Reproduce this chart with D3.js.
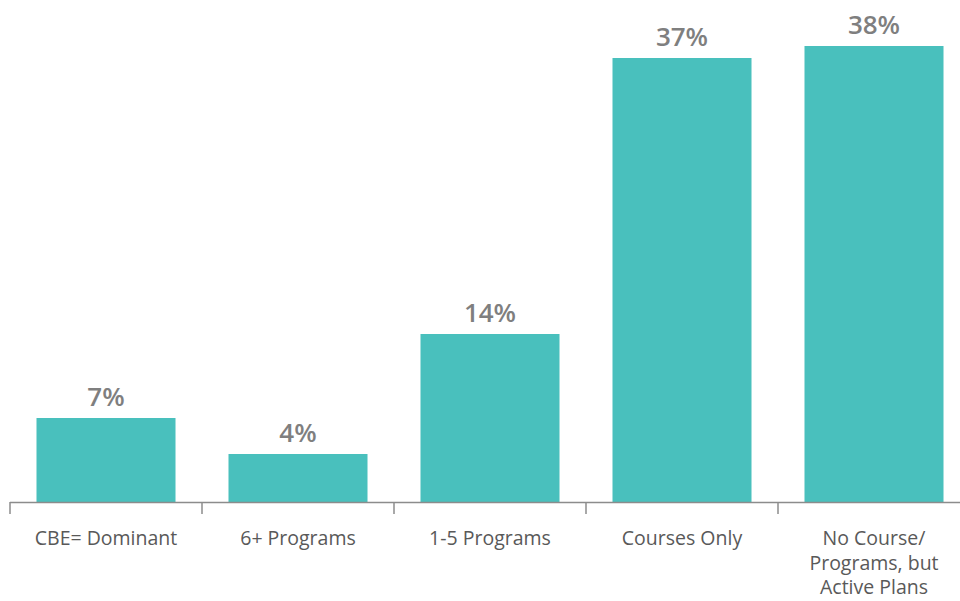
<!DOCTYPE html>
<html>
<head>
<meta charset="utf-8">
<script src="https://cdn.jsdelivr.net/npm/d3@7"></script>
<style>
  body { margin: 0; background: #fff; }
  svg { display: block; font-family: "Open Sans", Lato, sans-serif; }
</style>
</head>
<body>
<svg id="chart" width="960" height="601"></svg>
<script>
// categorias y valores (%)
const categories = ["CBE= Dominant", "6+ Programs", "1-5 Programs", "Courses Only", "No Course/ Programs, but Active Plans"];
const labelLines = [["CBE= Dominant"], ["6+ Programs"], ["1-5 Programs"], ["Courses Only"], ["No Course/", "Programs, but", "Active Plans"]];
const values = [7, 4, 14, 37, 38];

const width = 960, height = 601;
const baseY = 502;

const x = d3.scaleBand()
    .domain(categories)
    .range([10, 970])
    .paddingInner(0.276)
    .paddingOuter(0.138);

const y = d3.scaleLinear()
    .domain([0, 40])
    .range([baseY, baseY - 480]);

const svg = d3.select('#chart');

// barras
svg.append('g')
    .selectAll('rect')
    .data(values)
    .join('rect')
    .attr('x', (d, i) => x(categories[i]))
    .attr('y', d => y(d))
    .attr('width', x.bandwidth())
    .attr('height', d => y(0) - y(d))
    .attr('fill', '#49C0BD');

// etiquetas de valor
svg.append('g')
    .selectAll('text')
    .data(values)
    .join('text')
    .attr('x', (d, i) => x(categories[i]) + x.bandwidth() / 2)
    .attr('y', d => y(d) - 12)
    .attr('text-anchor', 'middle')
    .attr('font-size', 26)
    .attr('font-weight', 600)
    .attr('fill', '#7f7f7f')
    .text(d => d + '%');

// eje x con ticks entre categorias
const axis = svg.append('g');
axis.append('line')
    .attr('x1', 10).attr('x2', 960)
    .attr('y1', baseY + 0.5).attr('y2', baseY + 0.5)
    .attr('stroke', '#8c8c8c').attr('stroke-width', 1.5);

const step = x.step();
const tickXs = d3.range(categories.length + 1).map(i => 10 + i * step);
axis.selectAll('.tick')
    .data(tickXs)
    .join('line')
    .attr('class', 'tick')
    .attr('x1', d => d).attr('x2', d => d)
    .attr('y1', baseY).attr('y2', baseY + 12)
    .attr('stroke', '#8c8c8c').attr('stroke-width', 1.5);

// etiquetas de categoria
axis.selectAll('.cat')
    .data(labelLines)
    .join('text')
    .attr('class', 'cat')
    .attr('text-anchor', 'middle')
    .attr('font-size', 19.5)
    .attr('fill', '#595959')
    .attr('transform', (d, i) => `translate(${x(categories[i]) + x.bandwidth() / 2}, 545)`)
    .selectAll('tspan')
    .data(d => d)
    .join('tspan')
    .attr('x', 0)
    .attr('dy', (d, i) => i === 0 ? 0 : 24.5)
    .text(d => d);
</script>
</body>
</html>
